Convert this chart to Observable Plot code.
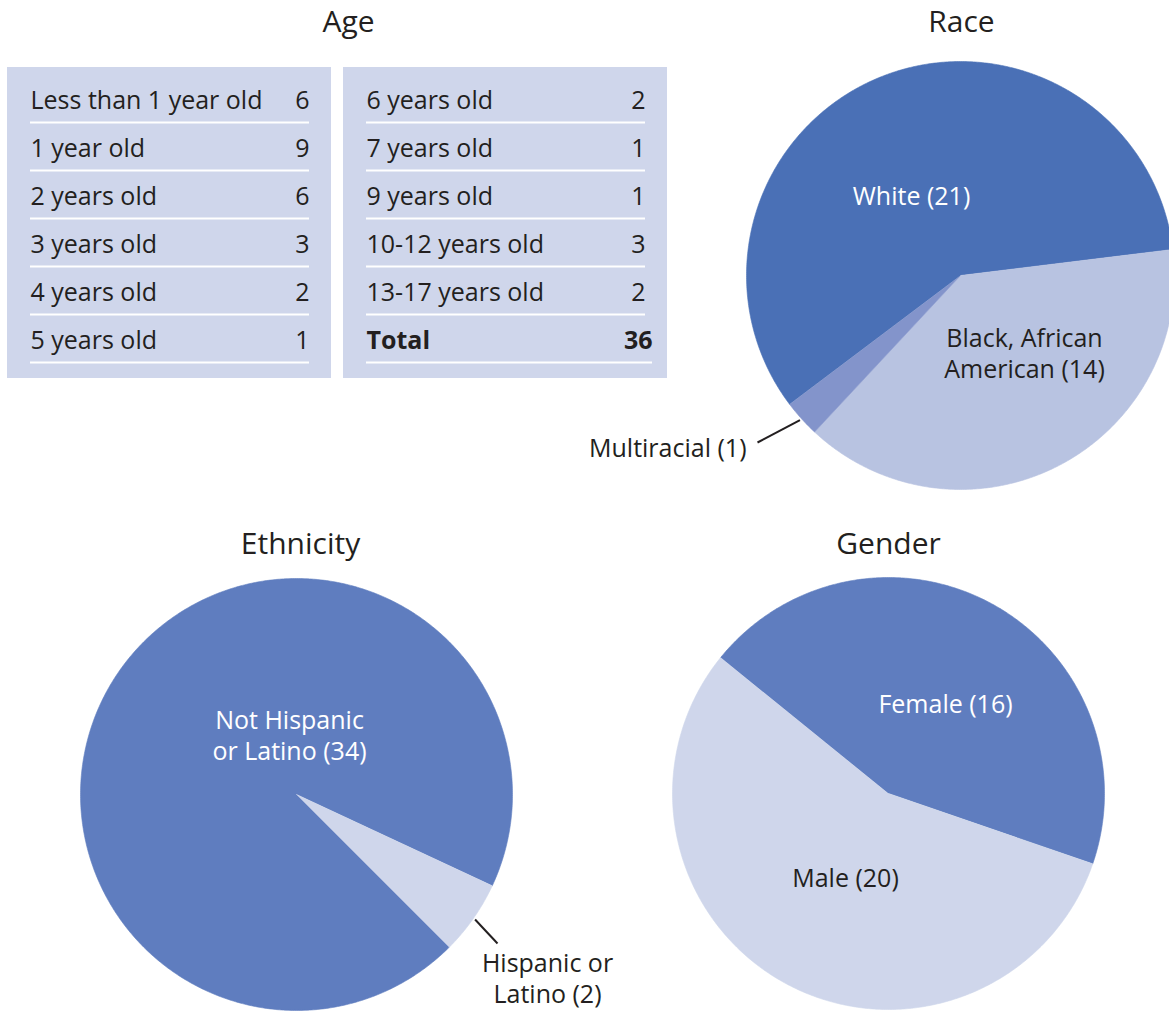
<!DOCTYPE html>
<html>
<head>
<meta charset="utf-8">
<script src="https://cdn.jsdelivr.net/npm/d3@7"></script>
<script src="https://cdn.jsdelivr.net/npm/@observablehq/plot@0.6"></script>
<style>
  html, body { margin: 0; padding: 0; background: #ffffff; }
  #chart { width: 1169px; height: 1011px; }
</style>
</head>
<body>
<div id="chart"></div>
<script>
// ---------------- data ----------------
const ageCategories = [
  "Less than 1 year old", "1 year old", "2 years old", "3 years old", "4 years old", "5 years old",
  "6 years old", "7 years old", "9 years old", "10-12 years old", "13-17 years old"
];
const ageCounts = [6, 9, 6, 3, 2, 1, 2, 1, 1, 3, 2];
const ageTotalLabel = "Total";

const raceCategories = ["White", "Black, African American", "Multiracial"];
const raceCounts = [21, 14, 1];
const raceLabelText = ["White (21)", "Black, African\nAmerican (14)", "Multiracial (1)"];

const ethnicityCategories = ["Not Hispanic or Latino", "Hispanic or Latino"];
const ethnicityCounts = [34, 2];
const ethnicityLabelText = ["Not Hispanic\nor Latino (34)", "Hispanic or\nLatino (2)"];

const genderCategories = ["Female", "Male"];
const genderCounts = [16, 20];
const genderLabelText = ["Female (16)", "Male (20)"];

const panelTitles = ["Age", "Race", "Ethnicity", "Gender"];

// ---------------- styles / layout ----------------
const W = 1169, H = 1011;
const FONT = "'Open Sans', Lato, sans-serif";
const INK = "#231f20";
const raceColors = ["#4a70b6", "#b8c3e1", "#8394cb"];
const ethnicityColors = ["#5f7dbf", "#cfd6eb"];
const genderColors = ["#5f7dbf", "#cfd6eb"];
const tableBg = "#cfd6eb";
const TXT = 25;       // body text size
const TITLE = 30;     // panel title size
const LINE_H = 1.24;  // multi-line label spacing (em)

const tbl = {
  firstRowY: 100, rowH: 48, lineOffset: 22, bgTop: 67, bgBottom: 378, rowsPerPanel: 6,
  panels: [
    {x1: 7, x2: 331, textX: 30, valX: 309},
    {x1: 343, x2: 667, textX: 366, valX: 645}
  ],
  totalValX: 652
};

const pies = [
  {key: "race", cats: raceCategories, vals: raceCounts, colors: raceColors, labels: raceLabelText,
   start: -127, cx: 960, cy: 275, r: 214,
   labelPos: [
     {x: 911, y: 195, fill: "#ffffff", anchor: "middle"},
     {x: 1024, y: 352, fill: INK, anchor: "middle"},
     {x: 746, y: 447, fill: INK, anchor: "end", leader: {x: 757, y: 442}}
   ]},
  {key: "ethnicity", cats: ethnicityCategories, vals: ethnicityCounts, colors: ethnicityColors, labels: ethnicityLabelText,
   start: 135, cx: 296, cy: 794, r: 216,
   labelPos: [
     {x: 289, y: 734, fill: "#ffffff", anchor: "middle"},
     {x: 547, y: 977, fill: INK, anchor: "middle", leader: {x: 497, y: 943}}
   ]},
  {key: "gender", cats: genderCategories, vals: genderCounts, colors: genderColors, labels: genderLabelText,
   start: -51, cx: 888, cy: 793, r: 216,
   labelPos: [
     {x: 945, y: 703, fill: "#ffffff", anchor: "middle"},
     {x: 845, y: 877, fill: INK, anchor: "middle"}
   ]}
];

const titlePos = [
  {x: 348, y: 22}, {x: 961, y: 22}, {x: 300, y: 544}, {x: 888, y: 544}
];

// ---------------- derived tables ----------------
const deg = Math.PI / 180;
const slicePoints = [];
const sliceLabels = [];
const leaders = [];
for (const p of pies) {
  const arcs = d3.pie().sort(null)
    .startAngle(p.start * deg).endAngle(p.start * deg + 2 * Math.PI)(p.vals);
  arcs.forEach((a, i) => {
    const key = p.key + ":" + p.cats[i];
    slicePoints.push({key, x: p.cx, y: p.cy, fill: p.colors[i]});
    const n = Math.max(2, Math.ceil((a.endAngle - a.startAngle) / deg * 2));
    for (let k = 0; k <= n; k++) {
      const ang = a.startAngle + (a.endAngle - a.startAngle) * k / n;
      slicePoints.push({key, x: p.cx + p.r * Math.sin(ang), y: p.cy - p.r * Math.cos(ang), fill: p.colors[i]});
    }
    const lp = p.labelPos[i];
    sliceLabels.push({text: p.labels[i], x: lp.x, y: lp.y, fill: lp.fill, anchor: lp.anchor});
    if (lp.leader) {
      const mid = (a.startAngle + a.endAngle) / 2;
      leaders.push({
        x1: p.cx + (p.r + 2) * Math.sin(mid), y1: p.cy - (p.r + 2) * Math.cos(mid),
        x2: lp.leader.x, y2: lp.leader.y
      });
    }
  });
}

const ageRows = ageCategories.map((c, i) => ({
  label: c, value: ageCounts[i],
  panel: Math.floor(i / tbl.rowsPerPanel), row: i % tbl.rowsPerPanel, total: false
}));
ageRows.push({label: ageTotalLabel, value: d3.sum(ageCounts), panel: 1, row: ageCategories.length - tbl.rowsPerPanel, total: true});

const rowY = d => tbl.firstRowY + d.row * tbl.rowH;
const titles = panelTitles.map((t, i) => ({text: t, ...titlePos[i]}));

// ---------------- chart ----------------
const chart = Plot.plot({
  width: W, height: H,
  margin: 0,
  x: {domain: [0, W], range: [0, W], axis: null},
  y: {domain: [0, H], range: [0, H], axis: null},
  color: {type: "identity"},
  style: {fontFamily: FONT, background: "#ffffff", color: INK},
  marks: [
    // table backgrounds
    Plot.rect(tbl.panels, {x1: "x1", x2: "x2", y1: () => tbl.bgTop, y2: () => tbl.bgBottom, fill: tableBg}),
    // separators
    Plot.ruleY(ageRows, {
      y: d => rowY(d) + tbl.lineOffset,
      x1: d => tbl.panels[d.panel].textX,
      x2: d => d.total ? tbl.totalValX : tbl.panels[d.panel].valX,
      stroke: "#ffffff", strokeWidth: 2
    }),
    Plot.text(ageRows.filter(d => !d.total), {
      x: d => tbl.panels[d.panel].textX, y: rowY, text: "label",
      textAnchor: "start", fontSize: TXT, fill: INK
    }),
    Plot.text(ageRows.filter(d => !d.total), {
      x: d => tbl.panels[d.panel].valX, y: rowY, text: d => String(d.value),
      textAnchor: "end", fontSize: TXT, fill: INK
    }),
    Plot.text(ageRows.filter(d => d.total), {
      x: d => tbl.panels[d.panel].textX, y: rowY, text: "label",
      textAnchor: "start", fontSize: TXT, fontWeight: "bold", fill: INK
    }),
    Plot.text(ageRows.filter(d => d.total), {
      x: () => tbl.totalValX, y: rowY, text: d => String(d.value),
      textAnchor: "end", fontSize: TXT, fontWeight: "bold", fill: INK
    }),
    // pies
    Plot.line(slicePoints, {x: "x", y: "y", z: "key", fill: "fill", stroke: "fill", strokeWidth: 0.6, curve: "linear"}),
    // leaders
    Plot.link(leaders, {x1: "x1", y1: "y1", x2: "x2", y2: "y2", stroke: INK, strokeWidth: 2}),
    // slice labels
    Plot.text(sliceLabels.filter(d => d.anchor === "middle"), {
      x: "x", y: "y", text: "text", fill: "fill", textAnchor: "middle", fontSize: TXT, lineHeight: LINE_H
    }),
    Plot.text(sliceLabels.filter(d => d.anchor === "end"), {
      x: "x", y: "y", text: "text", fill: "fill", textAnchor: "end", fontSize: TXT, lineHeight: LINE_H
    }),
    // titles
    Plot.text(titles, {x: "x", y: "y", text: "text", fontSize: TITLE, fill: INK, textAnchor: "middle"})
  ]
});
document.getElementById("chart").appendChild(chart);
</script>
</body>
</html>
